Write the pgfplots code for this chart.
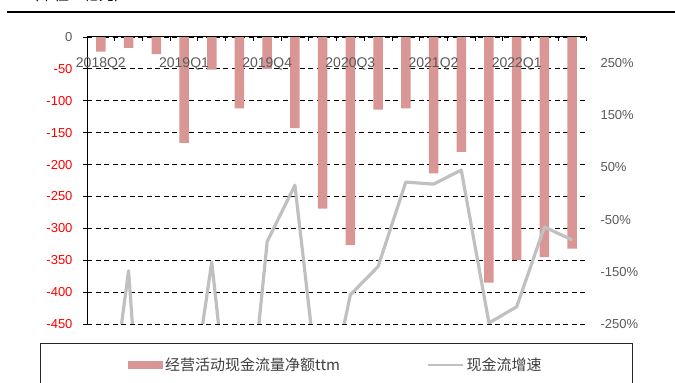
\documentclass[border=0pt]{standalone}
\usepackage{pgfplots}
\pgfplotsset{compat=1.18}
\usepackage{pgfplotstable}
\usepackage{fontspec}
\setmainfont{Liberation Sans}
\newfontfamily\cjk{Noto Sans CJK SC}
\definecolor{barcol}{HTML}{D99694}
\definecolor{linecol}{HTML}{C0C0C0}
\definecolor{labgray}{HTML}{595959}
\definecolor{legtext}{HTML}{404040}
\pgfplotstableread{
x bar rate
1 -23 -550
2 -17 -148
3 -27 -900
4 -166 -496
5 -51 -131
6 -112 -620
7 -50 -92
8 -143 16
9 -269 -447
10 -326 -194
11 -114 -140
12 -112 22
13 -214 18
14 -180 45
15 -385 -248
16 -350 -217
17 -345 -64
18 -332 -89
}\datatable
\begin{document}
\begin{tikzpicture}
\useasboundingbox (0,0) rectangle (675pt,383pt);
\draw[line width=1.6pt] (7pt,371pt) -- (675pt,371pt);
\node[anchor=base west, inner sep=0pt, font=\cjk\fontsize{15}{17}\selectfont] at (24pt,382.5pt) {（单位：亿元）};
\begin{axis}[
  at={(87pt,59pt)}, anchor=south west,
  scale only axis, width=499pt, height=287pt,
  xmin=0.5, xmax=18.5, ymin=-450, ymax=0,
  axis x line=none, axis y line*=left,
  y axis line style={line width=1pt, black},
  ytick={-450,-400,...,0},
  yticklabels={-450,-400,-350,-300,-250,-200,-150,-100,-50,{\color{labgray}0}},
  yticklabel style={text=red, font=\fontsize{13}{15}\selectfont, xshift=-7pt},
  tick align=outside, major tick length=4pt,
  ytick style={black, line width=0.8pt},
  ymajorgrids,
  grid style={black, line width=0.9pt, dash pattern=on 5pt off 3.5pt},
]
\addplot[ybar, bar width=9.5pt, fill=barcol, draw=none] table[x=x,y=bar]{\datatable};
\end{axis}
\begin{axis}[
  at={(87pt,59pt)}, anchor=south west,
  scale only axis, width=499pt, height=287pt,
  xmin=0.5, xmax=18.5, ymin=-250, ymax=300,
  axis x line*=top, axis y line*=right,
  x axis line style={line width=1pt, black},
  y axis line style={draw=none},
  ytick={-250,-150,...,250},
  yticklabels={-250\%,-150\%,-50\%,50\%,150\%,250\%},
  yticklabel style={text=labgray, font=\fontsize{13}{15}\selectfont, anchor=west, xshift=11pt},
  ytick style={draw=none},
  xtick={0.5,1.5,...,18.5}, xticklabels={},
  tick align=inside, major tick length=4pt,
  xtick style={black, line width=0.8pt},
  extra x ticks={1,4,7,10,13,16},
  extra x tick labels={2018Q2,2019Q1,2019Q4,2020Q3,2021Q2,2022Q1},
  extra x tick style={major tick length=0pt, tick label style={anchor=north, yshift=-17pt, text=labgray, font=\fontsize{14}{16}\selectfont}},
  legend columns=2,
  legend style={at={(0.499,-0.1429)}, anchor=center, draw=black!85, line width=0.8pt,
    inner xsep=88.5pt, inner ysep=12pt, text=legtext,
    font=\cjk\fontsize{15}{17}\selectfont,
    /tikz/every even column/.append style={column sep=85pt}},
]
\addlegendimage{legend image code/.code={\fill[barcol] (0pt,-3.5pt) rectangle (34pt,3.5pt);}}
\addlegendentry{经营活动现金流量净额ttm}
\addplot[linecol, line width=3.2pt, line join=round,
  legend image code/.code={\draw[linecol, line width=2.5pt] (0pt,0pt) -- (35pt,0pt);}]
  table[x=x,y=rate]{\datatable};
\addlegendentry{现金流增速}
\end{axis}
\end{tikzpicture}
\end{document}
